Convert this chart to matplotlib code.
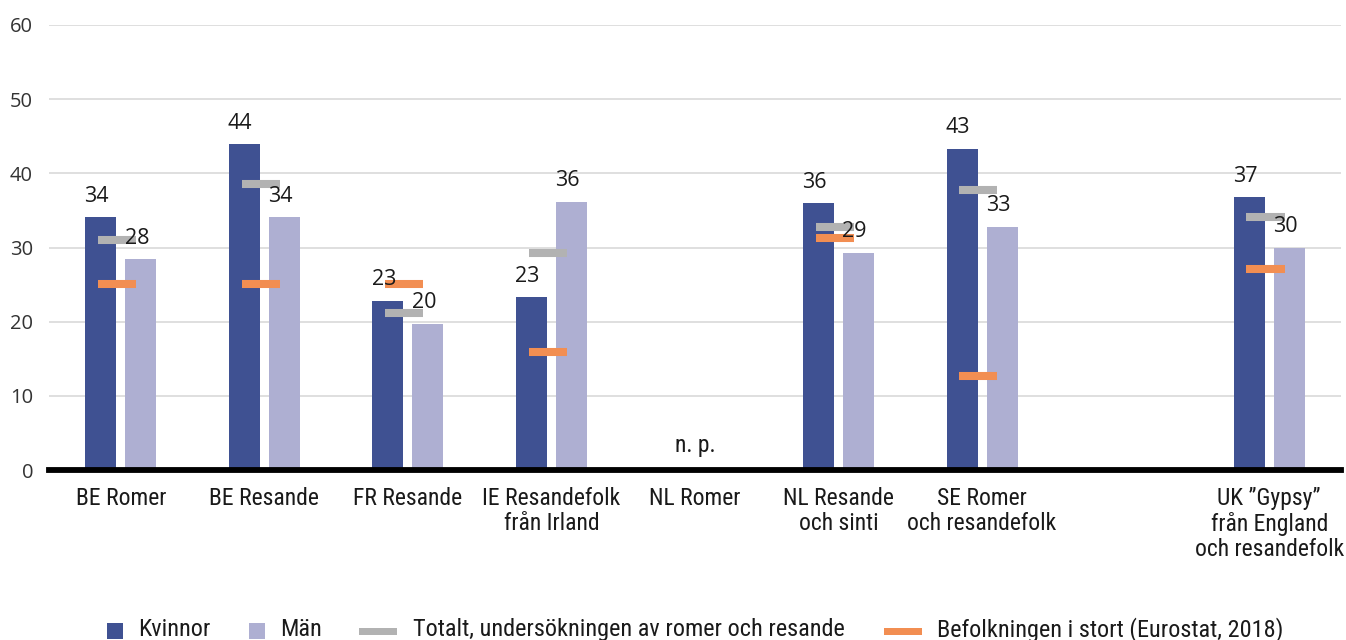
import numpy as np
import matplotlib
matplotlib.use("Agg")
import matplotlib.pyplot as plt
from matplotlib.patches import Rectangle
import matplotlib.font_manager as fm

categories = ["BE Romer", "BE Resande", "FR Resande", "IE Resandefolk\nfrån Irland", "NL Romer",
              "NL Resande\noch sinti", "SE Romer\noch resandefolk", "",
              "UK \u201dGypsy\u201d\nfrån England\noch resandefolk"]
kvinnor = [34.1, 43.9, 22.8, 23.3, np.nan, 36.0, 43.3, np.nan, 36.8]
man = [28.4, 34.1, 19.7, 36.2, np.nan, 29.3, 32.8, np.nan, 30.0]
totalt = [31.0, 38.5, 21.2, 29.3, np.nan, 32.7, 37.8, np.nan, 34.1]
befolkning = [25.1, 25.1, 25.1, 15.9, np.nan, 31.3, 12.7, np.nan, 27.1]
np_label = "n. p."
np_index = 4
yticks = [0, 10, 20, 30, 40, 50, 60]
legend_labels = ["Kvinnor", "Män", "Totalt, undersökningen av romer och resande",
                 "Befolkningen i stort (Eurostat, 2018)"]

C_K = "#3F5192"
C_M = "#AEAFD2"
C_T = "#B2B2B2"
C_B = "#F28E52"
TXT = "#1a1a1a"

names = {f.name for f in fm.fontManager.ttflist}
cond_family = None
for n in ["Roboto Condensed", "Liberation Sans Narrow", "Open Sans Condensed", "Noto Sans Condensed"]:
    if n in names:
        cond_family = n
        break
if cond_family is None:
    cond_font = dict(family="Noto Sans", stretch="condensed")
else:
    cond_font = dict(family=cond_family)

plt.rcParams["font.family"] = ["Open Sans", "DejaVu Sans"]

W, H = 1346, 640
fig = plt.figure(figsize=(W/100, H/100), dpi=100)
ax = fig.add_axes([49/W, 1-470/H, (1341-49)/W, (470-25)/H])

x = np.arange(len(categories))
bw = 0.216
off = 0.14
ax.bar(x - off, kvinnor, width=bw, color=C_K, zorder=2)
ax.bar(x + off, man, width=bw, color=C_M, zorder=2)

mw = 0.265
mo = -0.026
ax.hlines(totalt, x + mo - mw/2, x + mo + mw/2, colors=C_T, lw=5.8, zorder=3)
ax.hlines(befolkning, x + mo - mw/2, x + mo + mw/2, colors=C_B, lw=5.8, zorder=3)

for xs, vals in ((x - off, kvinnor), (x + off, man)):
    for xi, v in zip(xs, vals):
        if not np.isnan(v):
            ax.annotate(f"{v:.0f}", (xi, v), xytext=(-4, 21), textcoords="offset pixels",
                        ha="center", va="center", fontsize=15.5, color=TXT, zorder=5)

ax.text(x[np_index], 3.3, np_label, ha="center", va="center", fontsize=17,
        color=TXT, **cond_font)

ax.set_xlim(-0.5, len(categories) - 0.5)
ax.set_ylim(0, 60)
ax.set_yticks(yticks)
ax.set_yticklabels([str(t) for t in yticks], fontsize=14.5, color="#333333")
ax.tick_params(axis="y", length=0, pad=11.5)
ax.set_xticks(x)
ax.set_xticklabels(categories, fontsize=17, color=TXT, linespacing=1.12, va="top", **cond_font)
ax.tick_params(axis="x", length=0, pad=12)
ax.grid(axis="y", color="#d9d9d9", lw=1.2, zorder=0)
ax.set_axisbelow(True)
for s in ["top", "right", "left"]:
    ax.spines[s].set_visible(False)
ax.spines["bottom"].set_linewidth(4.2)
ax.spines["bottom"].set_color("black")
ax.spines["bottom"].set_zorder(4)

# legend drawn in pixel coordinates
lax = fig.add_axes([0, 0, 1, 1])
lax.set_xlim(0, W)
lax.set_ylim(H, 0)
lax.axis("off")
leg_items = [
    ("box", C_K, 107, 138),
    ("box", C_M, 249, 280),
    ("line", C_T, 359, 413),
    ("line", C_B, 884, 937),
]
for (kind, col, hx, tx), lab in zip(leg_items, legend_labels):
    if kind == "box":
        lax.add_patch(Rectangle((hx, 623), 16, 16, facecolor=col, edgecolor="none"))
    else:
        lax.add_patch(Rectangle((hx, 628), 38, 7, facecolor=col, edgecolor="none"))
    lax.text(tx, 636, lab, ha="left", va="baseline", fontsize=17.5, color=TXT, **cond_font)

fig.savefig("out.png", dpi=100)
